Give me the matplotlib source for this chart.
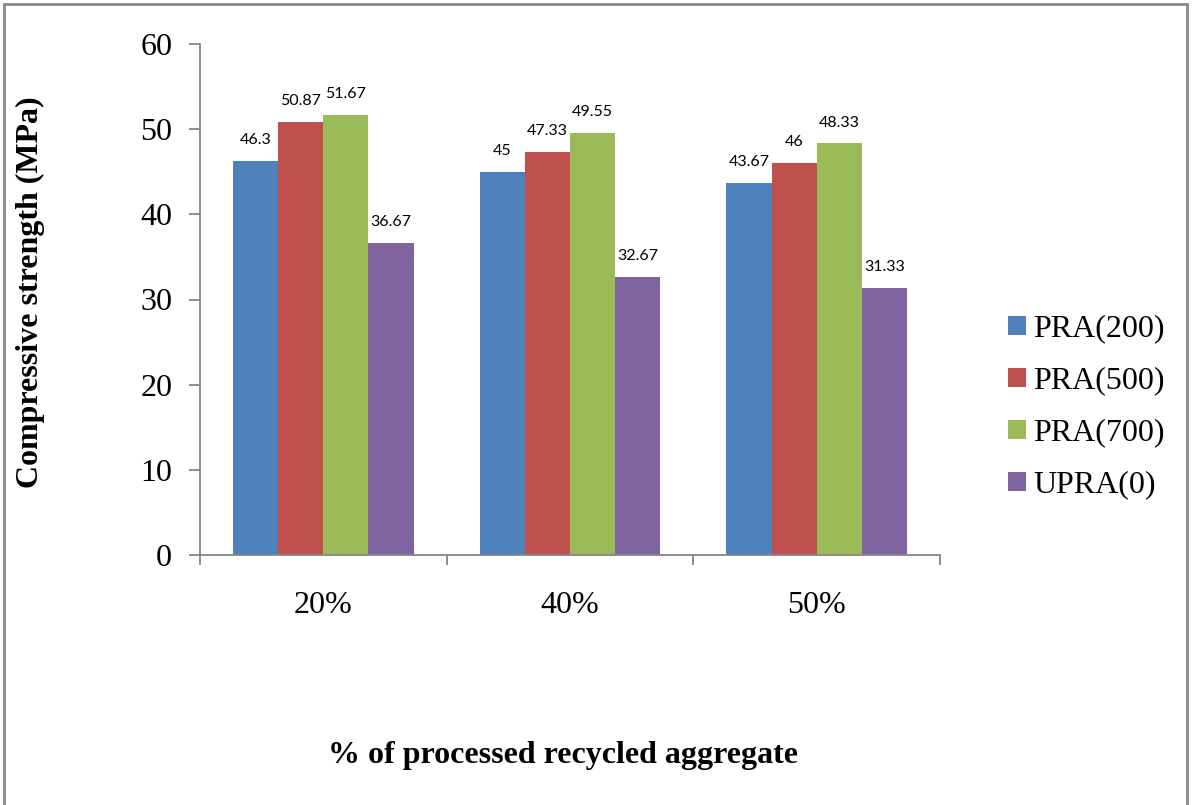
import numpy as np
import matplotlib.pyplot as plt
from matplotlib.patches import Rectangle

# Compressive strength data (MPa)
categories = ["20%", "40%", "50%"]
series_names = ["PRA(200)", "PRA(500)", "PRA(700)", "UPRA(0)"]
pra200 = [46.3, 45, 43.67]
pra500 = [50.87, 47.33, 46]
pra700 = [51.67, 49.55, 48.33]
upra0 = [36.67, 32.67, 31.33]
value_labels = [["46.3", "45", "43.67"],
                ["50.87", "47.33", "46"],
                ["51.67", "49.55", "48.33"],
                ["36.67", "32.67", "31.33"]]

colors = ["#4F81BD", "#C0504D", "#9BBB59", "#8064A2"]
serif = "Liberation Serif"

fig = plt.figure(figsize=(11.92, 8.05), dpi=100)
ax = fig.add_axes([200/1192, 1 - 555/805, 740/1192, 511/805])

x = np.arange(len(categories))
w = 0.183
all_series = [pra200, pra500, pra700, upra0]
for i, vals in enumerate(all_series):
    pos = x + (i - 1.5) * w
    ax.bar(pos, vals, width=w, color=colors[i], label=series_names[i])
    for px, v, txt in zip(pos, vals, value_labels[i]):
        ax.annotate(txt, (px, v), xytext=(0, 10), textcoords="offset points",
                    ha="center", va="bottom", fontsize=11.5, family="Lato")

ax.set_xlim(-0.5, 2.5)
ax.set_ylim(0, 60)
ax.set_yticks(range(0, 61, 10))
ax.set_xticks(x)
ax.set_xticklabels(categories)
ax.set_xticks(np.arange(-0.5, 2.6, 1), minor=True)

for s in ["top", "right"]:
    ax.spines[s].set_visible(False)
for s in ["left", "bottom"]:
    ax.spines[s].set_color("#868686")
    ax.spines[s].set_linewidth(1.3)

ax.tick_params(axis="y", length=8, width=1.3, color="#868686", pad=12,
               labelsize=23, labelfontfamily=serif)
ax.tick_params(axis="x", which="major", length=0, pad=26,
               labelsize=23, labelfontfamily=serif)
ax.tick_params(axis="x", which="minor", length=7, width=1.3, color="#868686")

fig.text(30/1192, 1 - 292/805, "Compressive strength (MPa)", rotation=90,
         ha="center", va="center", fontsize=23, fontweight="bold", family=serif)
fig.text(563/1192, 1 - 755/805, "% of processed recycled aggregate",
         ha="center", va="center", fontsize=23, fontweight="bold", family=serif)

fig.legend(loc="center left", bbox_to_anchor=(1008/1192, 1 - 407/805),
           frameon=False, prop={"family": serif, "size": 23},
           handlelength=0.55, handleheight=0.55, handletextpad=0.25,
           labelspacing=0.72, borderpad=0, borderaxespad=0)

# outer frame
fig.patches.append(Rectangle((4/1192, -0.02), 1183/1192, 1 - 4/805 + 0.02,
                             transform=fig.transFigure, fill=False,
                             edgecolor="#8a8a8a", linewidth=2))

fig.savefig("out.png", dpi=100)
